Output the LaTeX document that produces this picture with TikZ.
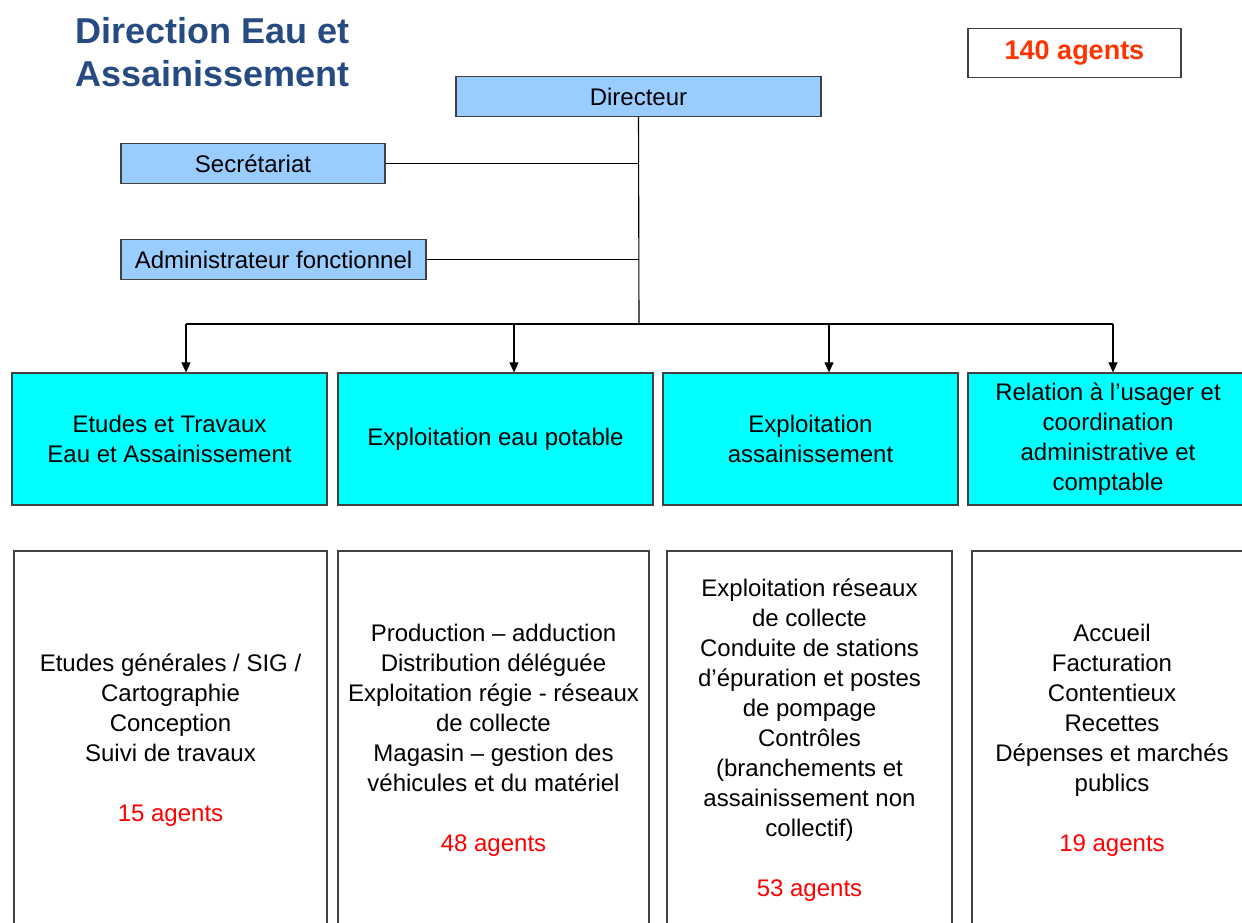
\documentclass[tikz,border=0pt]{standalone}
\usepackage{fontspec}
\setmainfont{Liberation Sans}
\usetikzlibrary{arrows.meta}
\definecolor{titleblue}{HTML}{264B82}
\definecolor{lightblue}{HTML}{99CCFF}
\definecolor{aqua}{HTML}{00FFFF}
\definecolor{totalred}{HTML}{FF3300}
\definecolor{agentred}{HTML}{FF0000}

\begin{document}
\begin{tikzpicture}[x=1pt, y=-1pt, line width=1.2pt,
    every node/.style={font=\fontsize{24}{30}\selectfont, align=center, inner sep=0pt},
    bluebox/.style={draw=black!75, fill=lightblue, minimum height=40},
    unitbox/.style={draw=black!75, fill=aqua, minimum height=132},
    taskbox/.style={draw=black!75, fill=white, minimum height=378},
    link/.style={draw=black, line width=1.1pt},
    arrow/.style={link, -{Triangle[length=10pt,width=9pt]}}]
				\useasboundingbox (0,0) rectangle (1242,923);
				\clip (0,0) rectangle (1242,923);

				% Title and total
				\node[anchor=north west, align=left, text=titleblue,
				  font=\fontsize{36}{43}\selectfont\bfseries] (title) at (75,17) {Direction Eau et\\Assainissement};
				\node[draw=black!75, minimum width=213, minimum height=49, text=totalred,
				  font=\fontsize{27}{30}\selectfont\bfseries] (total) at (1074.5,53) {140 agents};

				% Direction
				\node[bluebox, minimum width=365] (dir) at (638.5,96.5) {Directeur};
				\node[bluebox, minimum width=264] (sec) at (253,163.5) {Secrétariat};
				\node[bluebox, minimum width=305] (adm) at (273.5,259.5) {Administrateur fonctionnel};

				% Units
				\node[unitbox, minimum width=315] (u1) at (169.5,439) {Etudes et Travaux\\Eau et Assainissement};
				\node[unitbox, minimum width=315] (u2) at (495.5,439) {Exploitation eau potable};
				\node[unitbox, minimum width=295] (u3) at (810.5,439) {Exploitation\\assainissement};
				\node[unitbox, minimum width=280] (u4) at (1108,439) {Relation à l’usager et\\coordination\\administrative et\\comptable};

				% Tasks
				\node[taskbox, minimum width=313] (t1) at (170.5,740) {Etudes générales / SIG /\\Cartographie\\Conception\\Suivi de travaux\\[30pt]\textcolor{agentred}{15 agents}};
				\node[taskbox, minimum width=311] (t2) at (493.5,740) {Production – adduction\\Distribution déléguée\\Exploitation régie - réseaux\\de collecte\\Magasin – gestion des\\véhicules et du matériel\\[30pt]\textcolor{agentred}{48 agents}};
				\node[taskbox, minimum width=285] (t3) at (809.5,740) {Exploitation réseaux\\de collecte\\Conduite de stations\\d’épuration et postes\\de pompage\\Contrôles\\(branchements et\\assainissement non\\collectif)\\[30pt]\textcolor{agentred}{53 agents}};
				\node[taskbox, minimum width=280] (t4) at (1112,740) {Accueil\\Facturation\\Contentieux\\Recettes\\Dépenses et marchés\\publics\\[30pt]\textcolor{agentred}{19 agents}};

				% Links
				\coordinate (trunk) at (639,324);
				\coordinate (bus1) at (186,324);
				\coordinate (bus2) at (514,324);
				\coordinate (bus3) at (829,324);
				\coordinate (bus4) at (1113,324);
				\draw[link] (dir.south) -- (trunk);
				\draw[link] (sec.east) -- (sec.east -| trunk);
				\draw[link] (adm.east) -- (adm.east -| trunk);
				\draw[link] (bus1) -- (bus4);
				\draw[arrow] (bus1) -- (bus1 |- u1.north);
				\draw[arrow] (bus2) -- (bus2 |- u2.north);
				\draw[arrow] (bus3) -- (bus3 |- u3.north);
				\draw[arrow] (bus4) -- (bus4 |- u4.north);
\end{tikzpicture}
\end{document}
